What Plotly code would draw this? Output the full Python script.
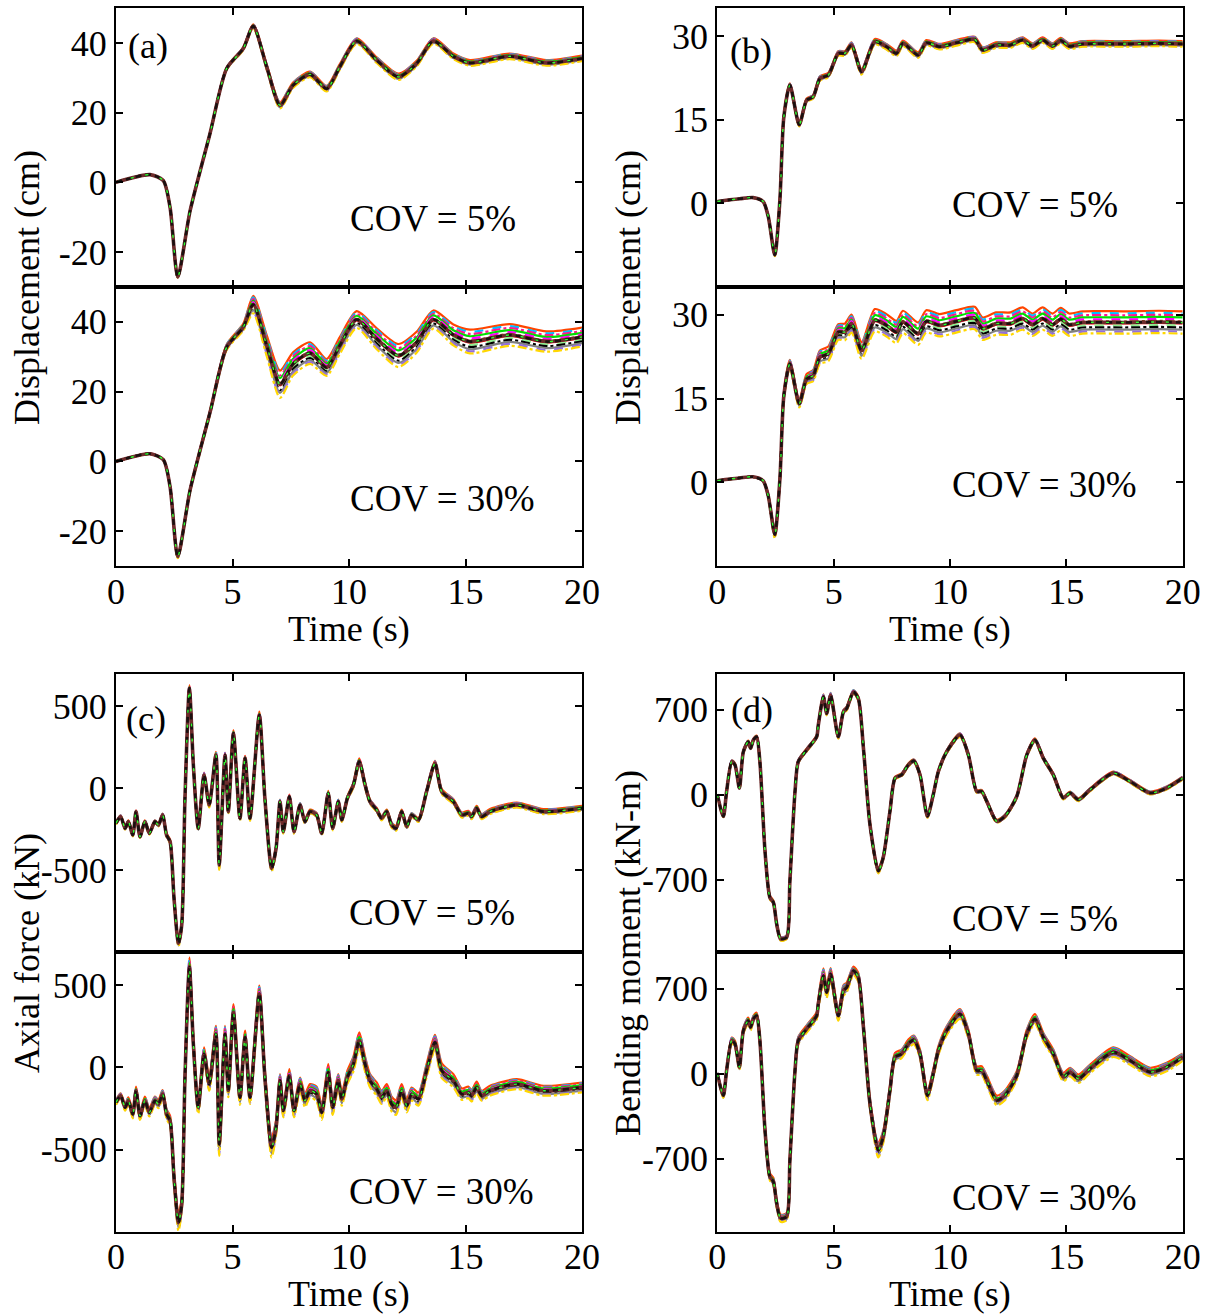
import plotly.graph_objects as go

W, H = 1212, 1316
FONT = "Liberation Serif"

# ---------------- data ----------------
# (a) displacement, case 1
t_a = [0, 1.46, 2.03, 2.32, 2.65, 3.18, 4.03, 4.75, 5.46, 5.89, 6.47, 7.04, 7.6, 8.33, 9.04,
       9.6, 10.33, 11.19, 12.12, 12.9, 13.62, 14.48, 15.19, 16.9, 18.48, 20.0]
a_mean = [0, 2.2, 0.5, -7.2, -27.2, -8.2, 13.9, 32.7, 38.4, 44.9, 33.1, 22.1, 27.9, 31.0, 26.9,
          33.1, 40.6, 35.1, 30.3, 34.1, 40.6, 36.2, 34.3, 36.2, 34.3, 35.6]
a5_env = [0, 0, 0, 0.1, 0.2, 0.2, 0.2, 0.3, 0.4, 0.5, 0.7, 0.9, 0.8, 0.8, 0.8,
          0.8, 0.8, 0.8, 0.9, 0.8, 0.8, 0.8, 0.8, 0.8, 0.8, 0.8]
a30_env = [0, 0.1, 0.1, 0.2, 0.5, 0.4, 0.5, 0.8, 1.0, 2.5, 3.0, 3.9, 3.3, 3.1, 2.4,
           2.4, 2.4, 3.0, 3.3, 3.0, 2.6, 3.0, 3.4, 3.1, 2.9, 2.7]

# (b) displacement, case 2
t_b = [0, 0.54, 0.97, 1.54, 1.97, 2.19, 2.47, 2.69, 2.86, 3.12, 3.52, 3.84, 4.12, 4.41, 4.77,
       5.2, 5.48, 5.77, 6.2, 6.77, 7.27, 7.7, 7.98, 8.63, 8.98, 9.55, 10.27, 11.06, 11.4, 11.98,
       12.6, 13.12, 13.55, 13.98, 14.4, 14.76, 15.12, 15.7, 17.5, 19.0, 20.0]
b_mean = [0.3, 0.6, 0.8, 1.0, 0.3, -2.4, -9.3, 0.6, 15.5, 21.2, 14.1, 18.5, 19.1, 22.4, 23.0,
          26.9, 26.9, 28.4, 23.6, 29.0, 28.1, 26.9, 28.7, 26.6, 28.8, 28.1, 28.8, 29.4, 27.5, 28.4,
          28.4, 29.3, 28.2, 29.3, 28.2, 29.2, 28.2, 28.6, 28.6, 28.7, 28.6]
b5_env = [0, 0, 0, 0, 0, 0.1, 0.2, 0.2, 0.3, 0.3, 0.3, 0.3, 0.3, 0.4, 0.4,
          0.4, 0.4, 0.5, 0.5, 0.5, 0.5, 0.5, 0.5, 0.5, 0.5, 0.5, 0.5, 0.5, 0.5, 0.5,
          0.5, 0.5, 0.5, 0.5, 0.5, 0.5, 0.5, 0.5, 0.5, 0.5, 0.5]
b30_env = [0, 0, 0, 0, 0, 0.2, 0.7, 0.3, 0.5, 0.7, 0.7, 0.9, 1.0, 1.2, 1.3,
           1.4, 1.5, 1.6, 1.5, 2.0, 2.0, 2.0, 2.0, 2.0, 2.0, 2.0, 2.0, 2.0, 2.0, 2.0,
           2.0, 2.0, 2.0, 2.0, 2.0, 2.0, 2.0, 2.0, 2.0, 2.0, 2.0]

# (c) axial force
t_c = [0, 0.2, 0.39, 0.53, 0.72, 0.86, 1.03, 1.24, 1.43, 1.67,
       1.82, 2.0, 2.17, 2.32, 2.49, 2.68, 2.82, 2.96, 3.15, 3.32,
       3.53, 3.78, 4.0, 4.29, 4.43, 4.68, 4.82, 5.04, 5.32, 5.54,
       5.75, 6.15, 6.39, 6.68, 6.87, 7.04, 7.18, 7.44, 7.64, 7.9,
       8.11, 8.33, 8.61, 8.83, 9.11, 9.3, 9.54, 9.69, 9.93, 10.19,
       10.44, 10.69, 10.9, 11.19, 11.4, 11.62, 11.83, 12.02, 12.26, 12.48,
       12.69, 12.98, 13.33, 13.69, 13.98, 14.48, 14.84, 15.12, 15.26, 15.48,
       15.69, 16.05, 17.2, 18.34, 20.0]
c_mean = [-213, -173, -244, -203, -285, -142, -295, -203, -274, -203,
          -224, -163, -285, -325, -671, -945, -834, -61, 610, 142,
          -244, 81, -102, 203, -468, 203, -142, 335, -183, 183,
          -183, 447, -61, -488, -366, -81, -264, -51, -264, -102,
          -203, -142, -163, -274, -30, -244, -81, -193, -61, 20,
          163, 20, -81, -132, -183, -142, -224, -244, -142, -234,
          -163, -193, -20, 152, -20, -81, -163, -152, -173, -122,
          -173, -142, -102, -142, -122]
c5_env = [8, 8, 8, 8, 8, 8, 8, 8, 8, 8,
          8, 8, 10, 12, 15, 20, 15, 15, 20, 15,
          15, 15, 15, 20, 30, 15, 15, 20, 15, 15,
          15, 20, 15, 20, 15, 12, 12, 12, 12, 12,
          12, 12, 12, 12, 15, 12, 12, 12, 12, 15,
          20, 15, 12, 12, 12, 12, 15, 15, 12, 12,
          12, 12, 12, 15, 15, 15, 15, 15, 15, 15,
          15, 15, 15, 15, 15]
c30_env = [15, 15, 20, 20, 25, 25, 25, 25, 25, 25,
           25, 25, 30, 30, 40, 50, 40, 40, 60, 40,
           40, 40, 40, 50, 70, 50, 40, 50, 45, 40,
           40, 50, 45, 60, 45, 40, 40, 40, 40, 40,
           40, 40, 45, 45, 50, 45, 40, 40, 40, 45,
           50, 45, 40, 40, 40, 40, 45, 45, 40, 40,
           40, 40, 40, 45, 45, 40, 35, 35, 35, 35,
           30, 30, 30, 30, 30]

# (d) bending moment
t_d = [0, 0.26, 0.4, 0.62, 0.76, 0.95, 1.12, 1.33, 1.43, 1.55,
       1.69, 1.83, 2.05, 2.26, 2.41, 2.55, 2.72, 2.98, 3.12, 3.34,
       3.48, 3.84, 4.27, 4.34, 4.56, 4.7, 4.87, 5.2, 5.42, 5.56,
       5.85, 6.06, 6.28, 6.56, 6.92, 7.13, 7.42, 7.64, 7.92, 8.21,
       8.45, 8.71, 9.03, 9.28, 9.5, 9.86, 10.43, 10.79, 11.15, 11.36,
       11.58, 12.01, 12.36, 12.87, 13.3, 13.65, 14.01, 14.44, 14.87, 15.16,
       15.52, 16.02, 17.02, 17.74, 18.6, 19.31, 20.0]
d_mean = [0, -178, 27, 273, 246, 55, 355, 437, 383, 451,
          478, 273, -465, -848, -888, -1066, -1189, -1176, -711, 27,
          273, 369, 478, 574, 807, 670, 820, 478, 684, 711,
          848, 793, 383, -246, -629, -519, -137, 137, 164, 246,
          279, 164, -178, 0, 191, 355, 492, 328, 27, 27,
          -55, -219, -178, -14, 328, 451, 301, 164, -27, 14,
          -41, 41, 178, 109, 14, 55, 137]
d5_env = [5, 8, 8, 10, 10, 10, 10, 10, 10, 10,
          10, 10, 12, 15, 15, 15, 15, 15, 15, 12,
          12, 12, 12, 15, 20, 15, 20, 15, 15, 15,
          15, 15, 15, 15, 20, 15, 12, 12, 12, 12,
          12, 12, 12, 12, 12, 12, 15, 12, 12, 12,
          12, 12, 12, 12, 12, 15, 12, 12, 12, 12,
          12, 12, 12, 12, 12, 12, 12]
d30_env = [10, 20, 20, 25, 25, 25, 25, 25, 25, 25,
           25, 25, 30, 30, 30, 30, 30, 30, 30, 30,
           30, 30, 30, 40, 60, 45, 50, 40, 45, 40,
           35, 35, 35, 40, 60, 50, 40, 35, 35, 35,
           35, 35, 40, 35, 35, 35, 40, 35, 35, 35,
           40, 40, 40, 35, 35, 40, 35, 35, 35, 35,
           35, 35, 40, 35, 35, 35, 30]

# realisation offsets (fraction of the band half-width), top of band to bottom
run_factors = [1.0, 0.82, 0.64, 0.45, 0.27, 0.09, -0.09, -0.27, -0.45, -0.64, -0.82, -1.0]
run_colors = ["#ff4500", "#00bfff", "#ff1493", "#00dd00", "#ff00ff", "#8b4513",
              "#ff0000", "#90ee90", "#000000", "#808080", "#9370db", "#ffd700"]
run_dashes = ["solid", "dash", "dashdot", "solid", "dash", "dashdot",
              "solid", "dash", "dashdot", "solid", "dash", "dashdot"]

x_ticks = [0, 5, 10, 15, 20]
x_ticktext = ["0", "5", "10", "15", "20"]
ticks_a = [-20, 0, 20, 40]
ticktext_a = ["-20", "0", "20", "40"]
ticks_b = [0, 15, 30]
ticktext_b = ["0", "15", "30"]
ticks_c = [-500, 0, 500]
ticktext_c = ["-500", "0", "500"]
ticks_d = [-700, 0, 700]
ticktext_d = ["-700", "0", "700"]

cov_labels = ["COV = 5%", "COV = 30%"]
panel_labels = ["(a)", "(b)", "(c)", "(d)"]
y_titles = ["Displacement (cm)", "Displacement (cm)", "Axial force (kN)", "Bending moment (kN-m)"]
x_title = "Time (s)"

# ---------------- layout geometry (pixels) ----------------
def px_x(p):
    return p / W


def px_y(p):
    return 1 - p / H


XL = [px_x(116), px_x(582)]
XR = [px_x(717.3), px_x(1182.7)]
ROW = {
    "a_top": (8.3, 286.7), "a_bot": (286.7, 566.3),
    "c_top": (673.5, 952.3), "c_bot": (952.3, 1231.7),
}

subplots = [
    # (t, mean, env, xdom, rows, yrange, yticks, yticktext, show x labels)
    (t_a, a_mean, a5_env, XL, ROW["a_top"], [-30, 50], ticks_a, ticktext_a, False),
    (t_a, a_mean, a30_env, XL, ROW["a_bot"], [-30, 50], ticks_a, ticktext_a, True),
    (t_b, b_mean, b5_env, XR, ROW["a_top"], [-15, 35], ticks_b, ticktext_b, False),
    (t_b, b_mean, b30_env, XR, ROW["a_bot"], [-15, 35], ticks_b, ticktext_b, True),
    (t_c, c_mean, c5_env, XL, ROW["c_top"], [-1000, 700], ticks_c, ticktext_c, False),
    (t_c, c_mean, c30_env, XL, ROW["c_bot"], [-1000, 700], ticks_c, ticktext_c, True),
    (t_d, d_mean, d5_env, XR, ROW["c_top"], [-1300, 1000], ticks_d, ticktext_d, False),
    (t_d, d_mean, d30_env, XR, ROW["c_bot"], [-1300, 1000], ticks_d, ticktext_d, True),
]

fig = go.Figure()
layout_axes = {}
for k, (t, mean, env, xdom, rows, yr, yt, ytt, showx) in enumerate(subplots, start=1):
    assert len(t) == len(mean) == len(env)
    xa = "x" if k == 1 else f"x{k}"
    ya = "y" if k == 1 else f"y{k}"
    for f, col, dsh in zip(run_factors, run_colors, run_dashes):
        fig.add_trace(go.Scatter(
            x=t, y=[m + f * e for m, e in zip(mean, env)], mode="lines",
            line=dict(color=col, width=2.2, dash=dsh, shape="spline", smoothing=0.7),
            xaxis=xa, yaxis=ya, showlegend=False, hoverinfo="skip"))
    fig.add_trace(go.Scatter(
        x=t, y=mean, mode="lines",
        line=dict(color="#6e2c2c", width=3.6, shape="spline", smoothing=0.7),
        xaxis=xa, yaxis=ya, showlegend=False, hoverinfo="skip"))
    fig.add_trace(go.Scatter(
        x=t, y=mean, mode="lines",
        line=dict(color="#1a1010", width=2.6, dash="6px,4px", shape="spline", smoothing=0.7),
        xaxis=xa, yaxis=ya, showlegend=False, hoverinfo="skip"))
    fig.add_trace(go.Scatter(
        x=t, y=mean, mode="lines",
        line=dict(color="#33ff33", width=1.4, dash="3px,12px", shape="spline", smoothing=0.7),
        xaxis=xa, yaxis=ya, showlegend=False, hoverinfo="skip"))

    axis_common = dict(showline=True, linecolor="black", linewidth=2, mirror="ticks",
                       ticks="inside", ticklen=7, tickwidth=1.5, tickcolor="black",
                       showgrid=False, zeroline=False, automargin=False,
                       tickfont=dict(family=FONT, size=36, color="black"))
    key_x = "xaxis" if k == 1 else f"xaxis{k}"
    key_y = "yaxis" if k == 1 else f"yaxis{k}"
    layout_axes[key_x] = dict(axis_common, domain=xdom, range=[0, 20], tickvals=x_ticks,
                              ticktext=x_ticktext, showticklabels=showx, anchor=ya,
                              ticklabelstandoff=-8)
    layout_axes[key_y] = dict(axis_common, domain=[px_y(rows[1]), px_y(rows[0])], range=yr,
                              tickvals=yt, ticktext=ytt, anchor=xa, ticklabelstandoff=0)

fig.update_layout(**layout_axes)

ann = []
# panel letters
for lab, (xp, yp) in zip(panel_labels, [(126, 46), (728, 51), (124, 719), (729, 710)]):
    ann.append(dict(text=lab, x=px_x(xp), y=px_y(yp), xref="paper", yref="paper",
                    xanchor="left", yanchor="middle", showarrow=False,
                    font=dict(family=FONT, size=36, color="black")))
# COV labels
cov_pos = [(348, 218, 0), (348, 498, 1), (950, 205, 0), (950, 485, 1),
           (347, 912, 0), (347, 1191, 1), (950, 918, 0), (950, 1197, 1)]
for xp, yp, i in cov_pos:
    ann.append(dict(text=cov_labels[i], x=px_x(xp), y=px_y(yp), xref="paper", yref="paper",
                    xanchor="left", yanchor="middle", showarrow=False,
                    font=dict(family=FONT, size=37, color="black")))
# y titles
for lab, (xp, yp) in zip(y_titles, [(27, 288), (628, 288), (27, 953), (628, 953)]):
    ann.append(dict(text=lab, x=px_x(xp), y=px_y(yp), xref="paper", yref="paper",
                    xanchor="center", yanchor="middle", textangle=-90, showarrow=False,
                    font=dict(family=FONT, size=36, color="black")))
# x titles
for xp, yp in [(349, 629), (950, 629), (349, 1294), (950, 1294)]:
    ann.append(dict(text=x_title, x=px_x(xp), y=px_y(yp), xref="paper", yref="paper",
                    xanchor="center", yanchor="middle", showarrow=False,
                    font=dict(family=FONT, size=36, color="black")))

fig.update_layout(
    width=W, height=H, margin=dict(l=0, r=0, t=0, b=0),
    paper_bgcolor="white", plot_bgcolor="white",
    annotations=ann, showlegend=False,
)

fig.write_html("out.html", config={"displayModeBar": False},
               post_script="document.body.style.margin='0';document.body.style.padding='0';")
